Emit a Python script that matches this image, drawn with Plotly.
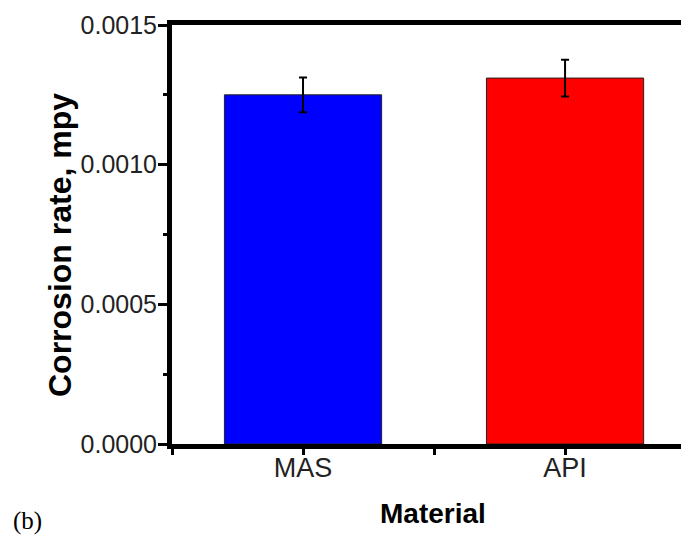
import plotly.graph_objects as go

materials = ["MAS", "API"]
corrosion_rate = [0.00125, 0.00131]
error = [0.0000625, 0.000066]
bar_colors = ["#0000FF", "#FF0000"]

x_pos = list(range(len(materials)))
x_tickvals = [-0.5, 0, 0.5, 1, 1.5]
x_ticktext = ["", "MAS", "", "API", ""]
y_tickvals = [0, 0.0005, 0.0010, 0.0015]

# page body has an 8px margin; size the figure to fill the visible window
OFF = 8
W, H = 689 - OFF, 540 - OFF
L, R, T = 172 - OFF, 0, 25 - OFF
B = H - (444 - OFF)
ph = H - T - B

fig = go.Figure()
fig.add_trace(go.Bar(
    x=x_pos, y=corrosion_rate, width=0.6,
    marker=dict(color=bar_colors, line=dict(color="#222222", width=1)),
    error_y=dict(type="data", array=error, visible=True,
                 color="black", thickness=2, width=4),
    showlegend=False,
))

fig.update_layout(
    width=W, height=H,
    margin=dict(l=L, r=R, t=T, b=B, pad=0),
    plot_bgcolor="white", paper_bgcolor="white",
    xaxis=dict(
        range=[-0.5, 1.473], tickvals=x_tickvals, ticktext=x_ticktext,
        showline=True, linecolor="black", linewidth=5, mirror=True,
        ticks="outside", ticklen=6, tickwidth=3, tickcolor="black",
        ticklabelstandoff=-10,
        showgrid=False, zeroline=False,
        tickfont=dict(family="Liberation Sans, Arial", size=27, color="#222222"),
    ),
    yaxis=dict(
        range=[0, 0.0015], tickvals=y_tickvals, tickformat=".4f",
        showline=True, linecolor="black", linewidth=5, mirror=False,
        ticks="outside", ticklen=9, tickwidth=3, tickcolor="black",
        ticklabelstandoff=-4,
        minor=dict(dtick=0.00025, ticks="outside", ticklen=4, tickwidth=3, tickcolor="black"),
        showgrid=False, zeroline=False,
        tickfont=dict(family="Liberation Sans, Arial", size=25, color="#222222"),
    ),
)

def px_to_paper_y(py):
    return (H - B - (py - OFF)) / ph

def px_to_paper_x(px):
    return ((px - OFF) - L) / (W - L - R)

fig.add_annotation(text="<b>Material</b>", xref="paper", yref="paper",
                   x=px_to_paper_x(433), y=px_to_paper_y(513),
                   showarrow=False, xanchor="center", yanchor="middle",
                   font=dict(family="Liberation Sans, Arial", size=28, color="black"))
fig.add_annotation(text="<b>Corrosion rate, mpy</b>", xref="paper", yref="paper",
                   x=px_to_paper_x(60), y=px_to_paper_y(245), textangle=-90,
                   showarrow=False, xanchor="center", yanchor="middle",
                   font=dict(family="Liberation Sans, Arial", size=32, color="black"))
fig.add_annotation(text="(b)", xref="paper", yref="paper",
                   x=px_to_paper_x(27), y=px_to_paper_y(521),
                   showarrow=False, xanchor="center", yanchor="middle",
                   font=dict(family="Liberation Serif, Times New Roman", size=25, color="black"))

fig.write_html("out.html")
